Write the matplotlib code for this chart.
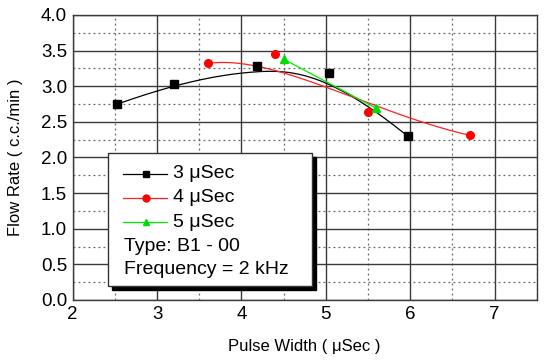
import numpy as np
import matplotlib.pyplot as plt
from matplotlib.lines import Line2D
from matplotlib.patches import Rectangle
from matplotlib.ticker import MultipleLocator

plt.rcParams['font.family'] = ['Liberation Sans', 'DejaVu Sans']

# pulse width (uSec) vs flow rate (c.c./min)
x3 = [2.53, 3.20, 4.18, 5.04, 5.97]
y3 = [2.75, 3.03, 3.29, 3.19, 2.30]
x4 = [3.60, 4.40, 5.50, 6.71]
y4 = [3.32, 3.45, 2.64, 2.31]
x5 = [4.50, 5.60]
y5 = [3.38, 2.69]

labels = ['3 \u03bcSec', '4 \u03bcSec', '5 \u03bcSec']
notes = ['Type: B1 - 00', 'Frequency = 2 kHz']


def bspline(px, py, n=200):
    # clamped B-spline through control points (like Origin's B-spline line)
    pts = np.column_stack([px, py])
    k = min(3, len(pts) - 1)
    m = len(pts)
    inner = np.linspace(0, 1, m - k + 1)[1:-1]
    t = np.concatenate([np.zeros(k + 1), inner, np.ones(k + 1)])
    u = np.linspace(0, 1, n)
    u[-1] = 1 - 1e-9

    def basis(i, p, u):
        if p == 0:
            return np.where((t[i] <= u) & (u < t[i + 1]), 1.0, 0.0)
        a = 0.0
        b = 0.0
        if t[i + p] != t[i]:
            a = (u - t[i]) / (t[i + p] - t[i]) * basis(i, p - 1, u)
        if t[i + p + 1] != t[i + 1]:
            b = (t[i + p + 1] - u) / (t[i + p + 1] - t[i + 1]) * basis(i + 1, p - 1, u)
        return a + b

    out = np.zeros((n, 2))
    for i in range(m):
        out += basis(i, k, u)[:, None] * pts[i]
    return out[:, 0], out[:, 1]


fig = plt.figure(figsize=(5.5, 3.61), dpi=100)
ax = fig.add_axes([0.1322, 0.1690, 0.8436, 0.7895])

ax.set_xlim(2, 7.5)
ax.set_ylim(0, 4.0)
ax.xaxis.set_major_locator(MultipleLocator(1))
ax.xaxis.set_minor_locator(MultipleLocator(0.5))
ax.yaxis.set_major_locator(MultipleLocator(0.5))
ax.yaxis.set_minor_locator(MultipleLocator(0.25))
ax.yaxis.set_major_formatter(plt.FormatStrFormatter('%.1f'))
ax.grid(which='major', color='#3a3a3a', lw=1.0, ls='-')
ax.grid(which='minor', color='#666666', lw=0.9, ls=(0, (1.5, 2.5)))
ax.set_axisbelow(True)
ax.tick_params(which='both', length=0, labelsize=13.5, pad=4)
for s in ax.spines.values():
    s.set_color('#3a3a3a')
    s.set_linewidth(1.0)

colors = ['black', '#ff2020', '#00ee00']
mcolors = ['black', '#ff0000', '#00dd00']
markers = ['s', 'o', '^']
series = [(x3, y3), (x4, y4), (x5, y5)]
for (xs, ys), c, mc, mk in zip(series, colors, mcolors, markers):
    bx, by = bspline(xs, ys)
    ax.plot(bx, by, color=c, lw=0.9, zorder=3)
    ax.plot(xs, ys, ls='none', marker=mk, ms=5.5, color=mc, zorder=4)

ax.set_xlabel('Pulse Width ( \u03bcSec )', fontsize=12, labelpad=12)
ax.set_ylabel('Flow Rate ( c.c./min )', fontsize=12, labelpad=13)

# legend box with a hard black shadow
bx0, by0, bw, bh = 0.077, 0.049, 0.438, 0.466
ax.add_patch(Rectangle((bx0 + 0.0086, by0 - 0.014), bw, bh, transform=ax.transAxes,
                       facecolor='black', edgecolor='black', zorder=5))
ax.add_patch(Rectangle((bx0, by0), bw, bh, transform=ax.transAxes,
                       facecolor='white', edgecolor='#333333', lw=1.0, zorder=6))
rows = [0.443, 0.359, 0.273, 0.188, 0.106]
for lab, c, mc, mk, ry in zip(labels, colors, mcolors, markers, rows):
    ax.add_line(Line2D([0.109, 0.204], [ry, ry], transform=ax.transAxes,
                       color=c, lw=0.9, zorder=7))
    ax.add_line(Line2D([0.157], [ry], transform=ax.transAxes, marker=mk,
                       ms=5, color=mc, zorder=7))
    ax.text(0.217, ry, lab, transform=ax.transAxes, fontsize=14,
            va='center', ha='left', zorder=8)
for note, ry in zip(notes, rows[3:]):
    ax.text(0.111, ry, note, transform=ax.transAxes, fontsize=14,
            va='center', ha='left', zorder=8)

fig.savefig('out.png', dpi=100)
